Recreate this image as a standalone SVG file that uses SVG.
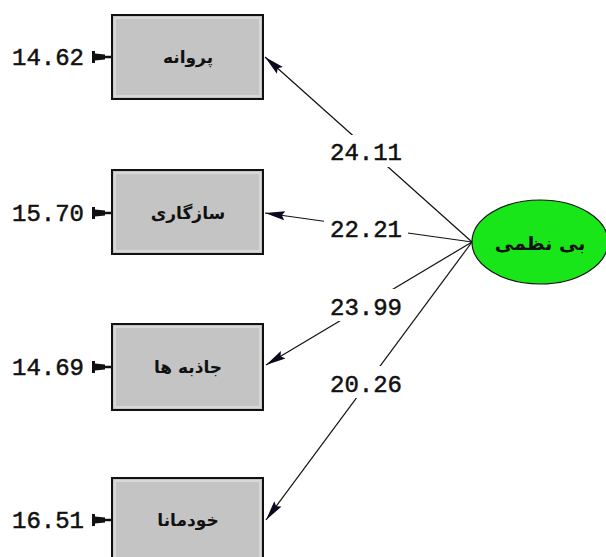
<svg xmlns="http://www.w3.org/2000/svg" width="606" height="557" viewBox="0 0 606 557">
<style>
.box{fill:#c4c4c4;stroke:#111;stroke-width:2}
.hi{fill:none;stroke:#d8d8d8;stroke-width:2}
.fa{font-family:"DejaVu Sans","Noto Sans",sans-serif;font-weight:bold;font-size:17px;fill:#111;text-anchor:middle}
.num{font-family:"Liberation Mono","DejaVu Sans Mono",monospace;font-size:24px;fill:#111;stroke:#111;stroke-width:0.5}
.ln{stroke:#111;stroke-width:1.2;fill:none}
.mask{fill:#fff}
</style>
<defs>
<marker id="ah" markerUnits="userSpaceOnUse" markerWidth="20" markerHeight="12" viewBox="0 0 20 12" refX="20" refY="6" orient="auto">
<path d="M0,1.5 L20,6 L0,10.5 L3,6 Z" fill="#0a0a1e"/>
</marker>
<path id="err" d="M-20,-6 L-17,-6 L-17,-3.5 L-7,-2.5 L-7,2.5 L-17,3.5 L-17,6 L-20,6 Z M-7,-1.2 L0,-1.2 L0,1.2 L-7,1.2 Z" fill="#111"/>
</defs>
<rect width="606" height="557" fill="#fff"/>
<g id="connectors">
<line class="ln" x1="472" y1="242" x2="265" y2="57" marker-end="url(#ah)"/>
<line class="ln" x1="472" y1="242" x2="265" y2="213" marker-end="url(#ah)"/>
<line class="ln" x1="472" y1="242" x2="266" y2="365" marker-end="url(#ah)"/>
<line class="ln" x1="472" y1="242" x2="266" y2="520" marker-end="url(#ah)"/>
<rect class="mask" x="324" y="135" width="84" height="32"/>
<rect class="mask" x="324" y="211" width="84" height="32"/>
<rect class="mask" x="324" y="289" width="84" height="32"/>
<rect class="mask" x="324" y="366" width="84" height="32"/>
<text class="num" x="330" y="160">24.11</text>
<text class="num" x="330" y="237">22.21</text>
<text class="num" x="330" y="315">23.99</text>
<text class="num" x="330" y="392">20.26</text>
<use href="#err" x="112" y="57"/>
<use href="#err" x="112" y="213"/>
<use href="#err" x="112" y="367"/>
<use href="#err" x="112" y="520"/>
</g>
<g id="n1">
<rect class="box" x="112" y="15" width="151" height="84"/>
<rect class="hi" x="115" y="18" width="145" height="78"/>
<text class="fa" x="188" y="63">پروانه</text>
<text class="num" x="12" y="65">14.62</text>
</g>
<g id="n2">
<rect class="box" x="112" y="170" width="151" height="84"/>
<rect class="hi" x="115" y="173" width="145" height="78"/>
<text class="fa" x="188" y="219">سازگاری</text>
<text class="num" x="12" y="221">15.70</text>
</g>
<g id="n3">
<rect class="box" x="112" y="324" width="151" height="86"/>
<rect class="hi" x="115" y="327" width="145" height="80"/>
<text class="fa" x="188" y="373">جاذبه ها</text>
<text class="num" x="12" y="375">14.69</text>
</g>
<g id="n4">
<rect class="box" x="112" y="478" width="151" height="86"/>
<rect class="hi" x="115" y="481" width="145" height="80"/>
<text class="fa" x="188" y="526">خودمانا</text>
<text class="num" x="12" y="528">16.51</text>
</g>
<g id="latent">
<ellipse cx="540" cy="242" rx="68" ry="42" fill="#19e619" stroke="#111" stroke-width="1.2"/>
<text class="fa" x="540" y="250" style="font-size:19px">بی نظمی</text>
</g>
</svg>
